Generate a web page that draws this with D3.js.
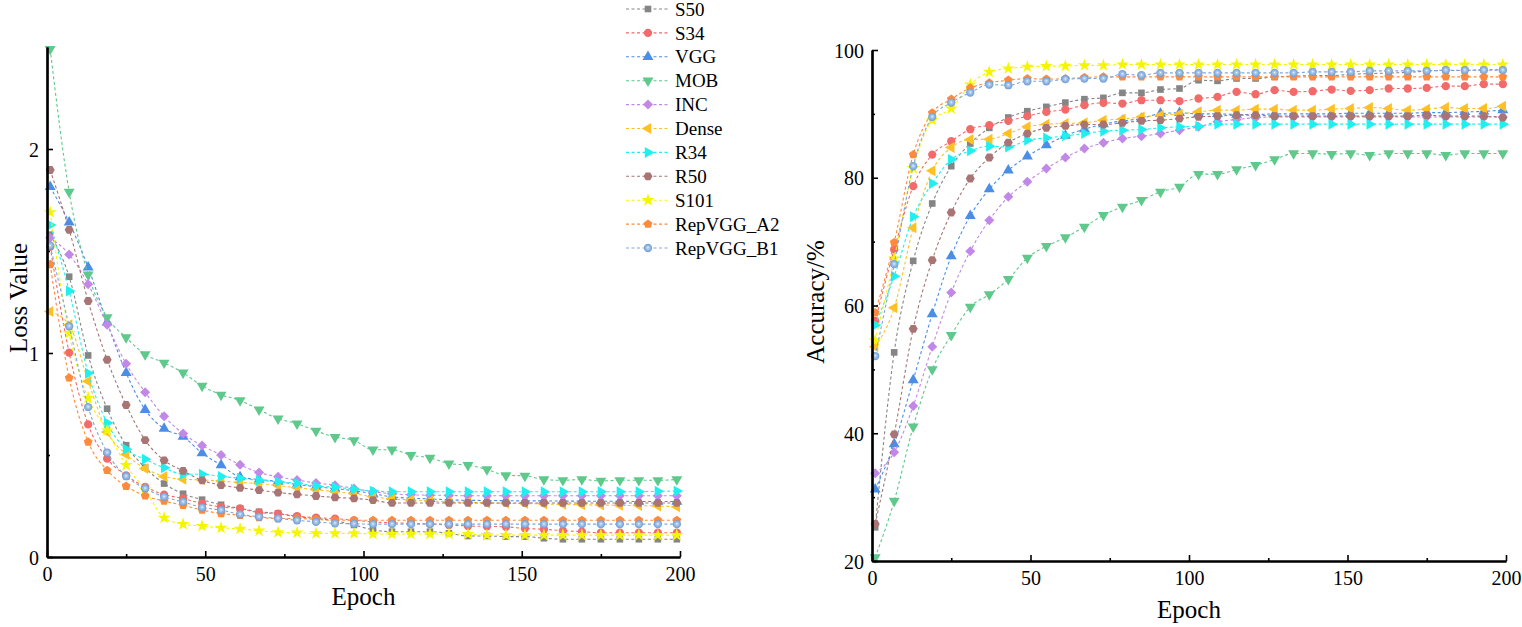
<!DOCTYPE html>
<html>
<head>
<meta charset="utf-8">
<script src="https://cdn.jsdelivr.net/npm/d3@7"></script>
<style>
    body { margin: 0; background: #fff; }
    svg text { font-family: "Liberation Serif", "Times New Roman", serif; fill: #000; }
</style>
</head>
<body>
<div id="chart"></div>
<script>
const epochs = [1, 7, 13, 19, 25, 31, 37, 43, 49, 55, 61, 67, 73, 79, 85, 91, 97, 103, 109, 115, 121, 127, 133, 139, 145, 151, 157, 163, 169, 175, 181, 187, 193, 199];

const seriesNames = ['S50', 'S34', 'VGG', 'MOB', 'INC', 'Dense', 'R34', 'R50', 'S101', 'RepVGG_A2', 'RepVGG_B1'];

// loss values
const lossS50 = [1.58, 1.374, 0.988, 0.727, 0.548, 0.438, 0.36, 0.31, 0.281, 0.256, 0.238, 0.222, 0.213, 0.197, 0.189, 0.178, 0.157, 0.133, 0.124, 0.124, 0.124, 0.116, 0.103, 0.103, 0.1, 0.1, 0.092, 0.087, 0.087, 0.087, 0.087, 0.087, 0.087, 0.087];
const lossS34 = [1.52, 1.002, 0.65, 0.482, 0.4, 0.344, 0.306, 0.287, 0.262, 0.245, 0.238, 0.217, 0.213, 0.2, 0.193, 0.188, 0.18, 0.172, 0.168, 0.165, 0.162, 0.157, 0.152, 0.15, 0.148, 0.14, 0.136, 0.129, 0.124, 0.119, 0.119, 0.119, 0.119, 0.119];
const lossVGG = [1.814, 1.64, 1.42, 1.15, 0.903, 0.722, 0.629, 0.59, 0.509, 0.45, 0.392, 0.38, 0.37, 0.355, 0.345, 0.335, 0.325, 0.31, 0.295, 0.288, 0.285, 0.28, 0.278, 0.277, 0.276, 0.275, 0.275, 0.274, 0.274, 0.273, 0.273, 0.272, 0.272, 0.272];
const lossMOB = [2.49, 1.79, 1.384, 1.175, 1.076, 0.993, 0.952, 0.903, 0.839, 0.795, 0.768, 0.722, 0.678, 0.654, 0.618, 0.588, 0.572, 0.526, 0.526, 0.499, 0.486, 0.458, 0.45, 0.429, 0.4, 0.398, 0.38, 0.376, 0.38, 0.373, 0.376, 0.376, 0.376, 0.38];
const lossINC = [1.565, 1.483, 1.337, 1.138, 0.947, 0.808, 0.69, 0.605, 0.546, 0.5, 0.452, 0.414, 0.393, 0.377, 0.363, 0.352, 0.336, 0.32, 0.31, 0.305, 0.303, 0.302, 0.3, 0.3, 0.3, 0.3, 0.3, 0.3, 0.3, 0.3, 0.3, 0.3, 0.3, 0.3];
const lossDense = [1.203, 1.138, 0.862, 0.613, 0.503, 0.434, 0.395, 0.381, 0.378, 0.372, 0.365, 0.36, 0.35, 0.34, 0.33, 0.32, 0.31, 0.295, 0.285, 0.28, 0.275, 0.27, 0.268, 0.265, 0.263, 0.262, 0.26, 0.258, 0.256, 0.255, 0.253, 0.252, 0.25, 0.246];
const lossR34 = [1.627, 1.304, 0.901, 0.657, 0.528, 0.479, 0.437, 0.406, 0.406, 0.395, 0.386, 0.376, 0.369, 0.361, 0.348, 0.342, 0.332, 0.323, 0.32, 0.32, 0.32, 0.32, 0.32, 0.32, 0.32, 0.32, 0.32, 0.32, 0.32, 0.32, 0.32, 0.32, 0.322, 0.323];
const lossR50 = [1.897, 1.604, 1.255, 0.967, 0.745, 0.573, 0.474, 0.422, 0.376, 0.352, 0.339, 0.328, 0.316, 0.307, 0.299, 0.292, 0.287, 0.279, 0.265, 0.265, 0.265, 0.265, 0.265, 0.265, 0.265, 0.265, 0.265, 0.265, 0.265, 0.265, 0.265, 0.265, 0.265, 0.265];
const lossS101 = [1.69, 1.097, 0.78, 0.62, 0.45, 0.33, 0.192, 0.161, 0.152, 0.143, 0.138, 0.129, 0.121, 0.119, 0.116, 0.116, 0.116, 0.113, 0.113, 0.113, 0.113, 0.113, 0.112, 0.107, 0.107, 0.107, 0.107, 0.107, 0.107, 0.107, 0.107, 0.107, 0.107, 0.107];
const lossA2 = [1.434, 0.878, 0.564, 0.425, 0.347, 0.3, 0.274, 0.254, 0.23, 0.213, 0.205, 0.194, 0.189, 0.189, 0.184, 0.18, 0.18, 0.18, 0.18, 0.18, 0.18, 0.18, 0.18, 0.18, 0.18, 0.18, 0.18, 0.18, 0.18, 0.18, 0.18, 0.18, 0.18, 0.18];
const lossB1 = [1.526, 1.131, 0.735, 0.512, 0.396, 0.336, 0.295, 0.27, 0.243, 0.23, 0.209, 0.197, 0.189, 0.18, 0.172, 0.165, 0.163, 0.161, 0.161, 0.161, 0.161, 0.161, 0.161, 0.161, 0.161, 0.161, 0.161, 0.161, 0.161, 0.161, 0.161, 0.161, 0.161, 0.161];

// accuracy values (%)
const accS50 = [25.27, 52.66, 66.99, 75.97, 81.81, 85.36, 87.81, 89.43, 90.42, 91.1, 91.77, 92.3, 92.51, 93.29, 93.29, 93.81, 93.97, 95.27, 95.17, 95.54, 95.54, 95.8, 95.9, 96.0, 96.0, 96.2, 96.3, 96.4, 96.5, 96.7, 96.8, 96.8, 96.9, 96.9];
const accS34 = [57.6, 68.77, 78.68, 83.63, 85.72, 87.6, 88.23, 88.9, 89.64, 90.31, 90.68, 91.36, 91.73, 91.62, 92.14, 92.14, 91.99, 92.41, 92.67, 93.45, 93.08, 93.71, 93.45, 93.55, 93.81, 93.6, 93.71, 93.97, 93.97, 94.07, 94.34, 94.34, 94.65, 94.65];
const accVGG = [31.22, 38.31, 48.33, 58.65, 67.72, 74.04, 78.21, 81.18, 83.37, 85.1, 86.6, 87.6, 88.4, 88.9, 89.27, 90.06, 90.16, 90.0, 90.0, 89.9, 89.9, 90.0, 90.0, 90.0, 90.0, 90.1, 90.1, 90.1, 90.1, 90.2, 90.2, 90.3, 90.4, 90.58];
const accMOB = [20.57, 29.39, 41.03, 50.0, 55.36, 59.79, 61.72, 64.12, 67.46, 69.29, 70.65, 72.31, 74.14, 75.45, 76.49, 77.8, 78.58, 80.56, 80.56, 81.29, 81.97, 82.86, 83.8, 83.8, 83.7, 83.8, 83.54, 83.8, 83.8, 83.8, 83.54, 83.8, 83.8, 83.8];
const accINC = [33.72, 37.01, 44.26, 53.55, 62.04, 68.51, 73.36, 77.01, 79.36, 81.44, 83.17, 84.57, 85.47, 86.14, 86.51, 86.93, 87.45, 87.97, 88.75, 89.12, 89.4, 89.5, 89.5, 89.5, 89.5, 89.5, 89.5, 89.5, 89.5, 89.5, 89.5, 89.5, 89.5, 89.5];
const accDense = [53.55, 59.64, 72.16, 81.08, 84.73, 85.98, 86.04, 86.92, 87.97, 88.38, 88.49, 88.6, 89.0, 89.2, 89.5, 89.8, 90.0, 90.32, 90.58, 90.58, 90.74, 90.74, 90.58, 90.58, 90.74, 90.84, 91.0, 90.84, 90.58, 90.74, 91.0, 90.84, 90.84, 91.2];
const accR34 = [56.94, 64.59, 73.88, 79.1, 82.85, 84.21, 84.94, 84.83, 85.88, 86.24, 86.56, 86.92, 87.29, 87.45, 87.55, 87.81, 87.97, 88.08, 88.39, 88.39, 88.39, 88.39, 88.39, 88.39, 88.39, 88.39, 88.39, 88.39, 88.39, 88.39, 88.39, 88.39, 88.39, 88.39];
const accR50 = [25.79, 39.83, 56.35, 67.1, 74.56, 79.88, 83.17, 85.51, 86.92, 87.81, 88.12, 88.33, 88.34, 88.6, 88.91, 89.01, 89.27, 89.54, 89.64, 89.8, 89.8, 89.64, 89.64, 89.64, 89.64, 89.64, 89.64, 89.64, 89.64, 89.8, 89.64, 89.64, 89.64, 89.43];
const accS101 = [54.5, 67.36, 81.5, 89.01, 90.83, 94.59, 96.57, 97.1, 97.36, 97.46, 97.5, 97.6, 97.6, 97.73, 97.73, 97.73, 97.73, 97.73, 97.73, 97.73, 97.73, 97.73, 97.73, 97.73, 97.73, 97.73, 97.73, 97.73, 97.73, 97.73, 97.73, 97.73, 97.73, 97.73];
const accA2 = [58.87, 69.86, 83.63, 90.16, 92.3, 94.07, 94.85, 95.27, 95.53, 95.43, 95.53, 95.69, 95.8, 95.8, 95.8, 95.8, 95.8, 95.8, 95.8, 95.8, 95.8, 95.8, 95.8, 95.8, 95.8, 95.8, 95.8, 95.8, 95.8, 95.8, 95.8, 95.8, 95.8, 95.8];
const accB1 = [52.09, 66.47, 81.81, 89.53, 91.77, 93.34, 94.59, 94.49, 95.11, 95.11, 95.43, 95.53, 95.54, 96.21, 96.06, 96.42, 96.42, 96.42, 96.42, 96.42, 96.42, 96.42, 96.42, 96.58, 96.58, 96.58, 96.73, 96.73, 96.73, 96.73, 96.84, 96.84, 96.84, 96.84];

const lossValues = [lossS50, lossS34, lossVGG, lossMOB, lossINC, lossDense, lossR34, lossR50, lossS101, lossA2, lossB1];
const accValues = [accS50, accS34, accVGG, accMOB, accINC, accDense, accR34, accR50, accS101, accA2, accB1];

const lossTicks = [0, 1, 2];
const lossMinor = [0.5, 1.5];
const accTicks = [20, 40, 60, 80, 100];
const accMinor = [30, 50, 70, 90];
const epochTicks = [0, 50, 100, 150, 200];
const epochMinor = [25, 75, 125, 175];

// styles
const colors = ['#858585', '#f26a6a', '#4a8ee6', '#5ec98b', '#c288e8', '#ffc024', '#1ef0f0', '#a87474', '#f5f500', '#ff8a3c', '#7ea8dc'];
const shapes = ['square', 'circle', 'triUp', 'triDown', 'diamond', 'triLeft', 'triRight', 'hexagon', 'star', 'pentagon', 'sphere'];

const width = 1522;
const height = 627;

const svg = d3.select('#chart')
    .append('svg')
    .attr('width', width)
    .attr('height', height);

const defs = svg.append('defs');
const grad = defs.append('radialGradient')
    .attr('id', 'sphere')
    .attr('cx', '50%').attr('cy', '50%').attr('r', '50%')
    .attr('fx', '50%').attr('fy', '45%');
grad.append('stop').attr('offset', '0%').attr('stop-color', '#f4f8fd');
grad.append('stop').attr('offset', '25%').attr('stop-color', '#b4cdec');
grad.append('stop').attr('offset', '100%').attr('stop-color', '#6c9bd4');

function polygon(n, r, start) {
    const pts = d3.range(n).map(i => {
        const a = start + i * 2 * Math.PI / n;
        return [r * Math.cos(a), r * Math.sin(a)];
    });
    return 'M' + pts.map(p => p.join(',')).join('L') + 'Z';
}

function markerPath(shape) {
    switch (shape) {
        case 'square': return d3.symbol(d3.symbolSquare, 44)();
        case 'circle': return d3.symbol(d3.symbolCircle, 54)();
        case 'hexagon': return polygon(6, 4.5, 0);
        case 'star': return d3.symbol(d3.symbolStar, 52)();
        case 'pentagon': return polygon(5, 4.6, -Math.PI / 2);
        case 'sphere': return d3.symbol(d3.symbolCircle, 54)();
        case 'diamond': return polygon(4, 5, 0);
        default: return d3.symbol(d3.symbolTriangle, 52)();
    }
}

function markerRotation(shape) {
    if (shape === 'triDown') return 180;
    if (shape === 'triLeft') return -90;
    if (shape === 'triRight') return 90;
    return 0;
}

function drawMarker(g, shape, color, x, y) {
    return g.append('path')
        .attr('d', markerPath(shape))
        .attr('transform', `translate(${x},${y}) rotate(${markerRotation(shape)})`)
        .attr('fill', shape === 'sphere' ? 'url(#sphere)' : color);
}

function drawPanel(opts) {
    const x = d3.scaleLinear().domain([0, 200]).range([opts.left, opts.right]);
    const y = d3.scaleLinear().domain(opts.yDomain).range([opts.bottom, opts.top]);
    const g = svg.append('g');

    // series
    opts.values.forEach((vals, si) => {
        const pts = epochs.map((e, i) => [e, vals[i]]);
        g.append('path')
            .datum(pts)
            .attr('fill', 'none')
            .attr('stroke', colors[si])
            .attr('stroke-width', 1.1)
            .attr('stroke-dasharray', '3,2.5')
            .attr('d', d3.line().x(d => x(d[0])).y(d => y(d[1])).curve(d3.curveMonotoneX));
        const mg = g.append('g');
        pts.forEach(p => drawMarker(mg, shapes[si], colors[si], x(p[0]), y(p[1])));
    });

    // axes
    g.append('g')
        .attr('transform', `translate(0,${opts.bottom})`)
        .call(d3.axisBottom(x).tickValues(epochTicks).tickSize(-6).tickSizeOuter(0).tickPadding(10));
    g.append('g')
        .attr('transform', `translate(0,${opts.bottom})`)
        .call(d3.axisBottom(x).tickValues(epochMinor).tickSize(-3).tickFormat('').tickSizeOuter(0));
    const yAxis = g.append('g')
        .attr('transform', `translate(${opts.left},0)`)
        .call(d3.axisLeft(y).tickValues(opts.ticks).tickSize(-6).tickSizeOuter(0).tickPadding(8).tickFormat(d3.format('d')));
    g.append('g')
        .attr('transform', `translate(${opts.left},0)`)
        .call(d3.axisLeft(y).tickValues(opts.minor).tickSize(-3).tickFormat('').tickSizeOuter(0));

    g.selectAll('.domain').attr('stroke', '#000').attr('stroke-width', 2.2);
    g.selectAll('.tick line').attr('stroke', '#000').attr('stroke-width', 1.6);
    g.selectAll('.tick text')
        .style('font-family', '"Liberation Serif", "Times New Roman", serif')
        .style('font-size', '20px')
        .attr('fill', '#000');
    yAxis.selectAll('.tick text').attr('dy', '0.35em');

    g.append('text')
        .attr('x', (opts.left + opts.right) / 2)
        .attr('y', opts.xTitleY)
        .attr('text-anchor', 'middle')
        .style('font-size', '25px')
        .text('Epoch');
    g.append('text')
        .attr('transform', `translate(${opts.yTitleX},${opts.yTitleY}) rotate(-90)`)
        .attr('text-anchor', 'middle')
        .style('font-size', '25px')
        .text(opts.yTitle);
}

drawPanel({
    left: 47, right: 680, top: 47, bottom: 557,
    yDomain: [0, 2.5], ticks: lossTicks, minor: lossMinor,
    values: lossValues, yTitle: 'Loss Value',
    yTitleX: 27, yTitleY: 298, xTitleY: 605
});

drawPanel({
    left: 872, right: 1506, top: 50, bottom: 561,
    yDomain: [20, 100], ticks: accTicks, minor: accMinor,
    values: accValues, yTitle: 'Accuracy/%',
    yTitleX: 824, yTitleY: 302, xTitleY: 618
});

// legend
const legend = svg.append('g').attr('transform', 'translate(626,9)');
seriesNames.forEach((name, i) => {
    const row = legend.append('g').attr('transform', `translate(0,${i * 23.9})`);
    row.append('line')
        .attr('x1', 0).attr('x2', 44)
        .attr('y1', 0).attr('y2', 0)
        .attr('stroke', colors[i])
        .attr('stroke-width', 1.1)
        .attr('stroke-dasharray', '3,2.5');
    drawMarker(row, shapes[i], colors[i], 22, 0);
    row.append('text')
        .attr('x', 49)
        .attr('y', 0)
        .attr('dy', '0.35em')
        .style('font-size', '19px')
        .text(name);
});
</script>
</body>
</html>
